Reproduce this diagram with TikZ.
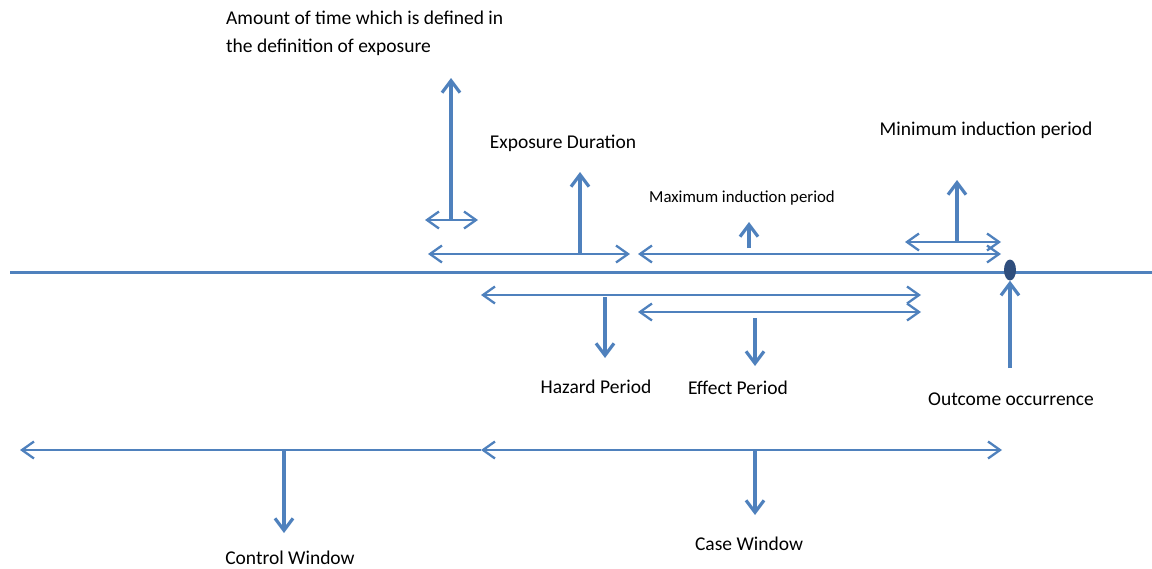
\documentclass[tikz,border=0pt]{standalone}
\usepackage{fontspec}
\setmainfont{Carlito}
\usepackage{xcolor}
\usetikzlibrary{arrows.meta, positioning, shapes.geometric}
\definecolor{lineblue}{RGB}{79,129,189}
\definecolor{dotblue}{RGB}{47,78,125}
\tikzset{
  span/.style={{Straight Barb[length=12pt,width=17pt]}-{Straight Barb[length=12pt,width=17pt]},
    line width=2.3pt, draw=lineblue},
  leftspan/.style={{Straight Barb[length=12pt,width=17pt]}-, line width=2.3pt, draw=lineblue},
  riser/.style={-{Straight Barb[length=12pt,width=18pt]}, line width=3.2pt, draw=lineblue},
  timeline/.style={line width=3pt, draw=lineblue},
  lbl/.style={font=\fontsize{19.5}{28}\selectfont, inner sep=0pt, align=left},
  smalllbl/.style={font=\fontsize{16.8}{20}\selectfont, inner sep=0pt},
}

\begin{document}
\begin{tikzpicture}[x=1pt, y=-1pt]
  \useasboundingbox (0,0) rectangle (1152,568);

  % time axis and outcome
  \coordinate (axisL) at (10,272);
  \coordinate (axisR) at (1152,272);
  \draw[timeline] (axisL) -- (axisR);
  \node[ellipse, fill=dotblue, minimum width=12pt, minimum height=21pt, inner sep=0pt] (outcome) at (1010,270) {};

  % labels
  \node[lbl, anchor=north west] (defnlbl) at (226,11) {Amount of time which is defined in\\the definition of exposure};
  \node[lbl] (durlbl) at (563,143) {Exposure Duration};
  \node[smalllbl] (maxlbl) at (742,198) {Maximum induction period};
  \node[lbl] (minlbl) at (986,130) {Minimum induction period};
  \node[lbl] (hazlbl) at (596,387) {Hazard Period};
  \node[lbl] (efflbl) at (738,388) {Effect Period};
  \node[lbl] (outlbl) at (1011,399) {Outcome occurrence};
  \node[lbl] (ctllbl) at (290,558) {Control Window};
  \node[lbl] (caselbl) at (749,544) {Case Window};

  % end points
  \coordinate (defL) at (425,220);   \coordinate (defR) at (478,220);
  \coordinate (defMid) at (451,220); \coordinate (defTop) at (451,78);
  \coordinate (durL) at (428,254);   \coordinate (durR) at (630,254);
  \coordinate (durMid) at (580,254); \coordinate (durTop) at (580,172);
  \coordinate (maxL) at (638,254);   \coordinate (maxR) at (1001,254);
  \coordinate (maxMid) at (749,248); \coordinate (maxTop) at (749,222);
  \coordinate (minL) at (905,242);   \coordinate (minR) at (1001,242);
  \coordinate (minMid) at (957,242); \coordinate (minTop) at (957,180);
  \coordinate (hazL) at (481,295);   \coordinate (hazR) at (921,295);
  \coordinate (hazMid) at (605,297); \coordinate (hazBot) at (605,358);
  \coordinate (effL) at (638,312);   \coordinate (effR) at (921,312);
  \coordinate (effMid) at (755,318); \coordinate (effBot) at (755,366);
  \coordinate (outBot) at (1010,368);
  \coordinate (ctlL) at (20,450);
  \coordinate (caseL) at (481,450);  \coordinate (caseR) at (1002,450);
  \coordinate (ctlMid) at (284,450); \coordinate (ctlBot) at (284,533);
  \coordinate (caseMid) at (755,450); \coordinate (caseBot) at (755,515);

  % above the axis
  \draw[span] (defL) -- (defR);
  \draw[riser] (defMid) -- (defTop);
  \draw[span] (durL) -- (durR);
  \draw[riser] (durMid) -- (durTop);
  \draw[span] (maxL) -- (maxR);
  \draw[riser] (maxMid) -- (maxTop);
  \draw[span] (minL) -- (minR);
  \draw[riser] (minMid) -- (minTop);

  % below the axis
  \draw[span] (hazL) -- (hazR);
  \draw[riser] (hazMid) -- (hazBot);
  \draw[span] (effL) -- (effR);
  \draw[riser] (effMid) -- (effBot);
  \draw[riser] (outBot) -- (outcome.south);

  % windows
  \draw[leftspan] (ctlL) -- (caseL);
  \draw[span] (caseL) -- (caseR);
  \draw[riser] (ctlMid) -- (ctlBot);
  \draw[riser] (caseMid) -- (caseBot);
\end{tikzpicture}
\end{document}
